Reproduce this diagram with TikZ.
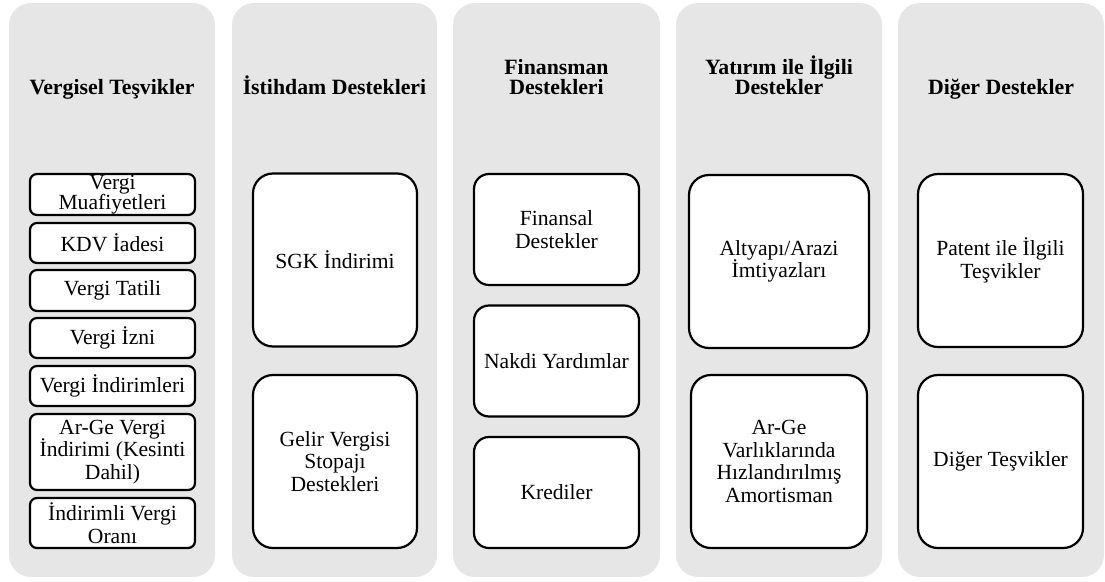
\documentclass[tikz,border=0pt]{standalone}
\usepackage{fontspec}
\setmainfont{Liberation Serif}
\definecolor{panelgray}{RGB}{230,230,230}
\begin{document}
\begin{tikzpicture}[x=1pt,y=-1pt,
  panel/.style={fill=panelgray, draw=none, rounded corners=22pt,
    minimum height=574pt, inner sep=0pt},
  head/.style={font=\fontsize{21.8}{20}\selectfont\bfseries, align=center, inner sep=0pt},
  item/.style={draw=black, fill=white, line width=2.2pt, align=center, inner sep=0pt,
    font=\fontsize{21.6}{22.5}\selectfont},
  smallitem/.style={item, rounded corners=7pt, minimum width=165pt},
  miditem/.style={item, rounded corners=15pt, minimum width=165pt, minimum height=111pt},
  bigitem/.style={item, rounded corners=20pt, minimum height=173pt}
]
\useasboundingbox (0,0) rectangle (1105,581);

% column panels
\node[panel, minimum width=206pt] (p1) at (112,290) {};
\node[panel, minimum width=205pt] (p2) at (334.5,290) {};
\node[panel, minimum width=207pt] (p3) at (556.5,290) {};
\node[panel, minimum width=206pt] (p4) at (779,290) {};
\node[panel, minimum width=206pt] (p5) at (1001,290) {};

% column headings
\node[head, anchor=base] (h1) at (112,94) {Vergisel Teşvikler};
\node[head, anchor=base] (h2) at (334.5,94) {İstihdam Destekleri};
\node[head, anchor=south] (h3) at (556.5,95) {Finansman\\Destekleri};
\node[head, anchor=south] (h4) at (779,95) {Yatırım ile İlgili\\Destekler};
\node[head, anchor=base] (h5) at (1001,94) {Diğer Destekler};

% tax incentives
\node[smallitem, minimum height=41pt, font=\fontsize{21.6}{20}\selectfont] (v1) at (112.5,194.5) {Vergi\\Muafiyetleri};
\node[smallitem, minimum height=40pt] (v2) at (112.5,243) {KDV İadesi};
\node[smallitem, minimum height=41pt] (v3) at (112.5,290.5) {Vergi Tatili};
\node[smallitem, minimum height=40pt] (v4) at (112.5,338) {Vergi İzni};
\node[smallitem, minimum height=40pt] (v5) at (112.5,386) {Vergi İndirimleri};
\node[smallitem, minimum height=76pt] (v6) at (112.5,452) {Ar-Ge Vergi\\İndirimi (Kesinti\\Dahil)};
\node[smallitem, minimum height=50pt] (v7) at (112.5,523) {İndirimli Vergi\\Oranı};

% employment supports
\node[bigitem, minimum width=164pt] (e1) at (335,260) {SGK İndirimi};
\node[bigitem, minimum width=164pt] (e2) at (335,461.5) {Gelir Vergisi\\Stopajı\\Destekleri};

% financing supports
\node[miditem] (f1) at (556.5,229.5) {Finansal\\Destekler};
\node[miditem] (f2) at (556.5,361) {Nakdi Yardımlar};
\node[miditem] (f3) at (556.5,492.5) {Krediler};

% investment supports
\node[bigitem, minimum width=180pt] (y1) at (779,261.5) {Altyapı/Arazi\\İmtiyazları};
\node[bigitem, minimum width=176pt] (y2) at (779,461.5) {Ar-Ge\\Varlıklarında\\Hızlandırılmış\\Amortisman};

% other supports
\node[bigitem, minimum width=165pt] (d1) at (1000.5,260.5) {Patent ile İlgili\\Teşvikler};
\node[bigitem, minimum width=165pt] (d2) at (1000.5,461.5) {Diğer Teşvikler};
\end{tikzpicture}
\end{document}
